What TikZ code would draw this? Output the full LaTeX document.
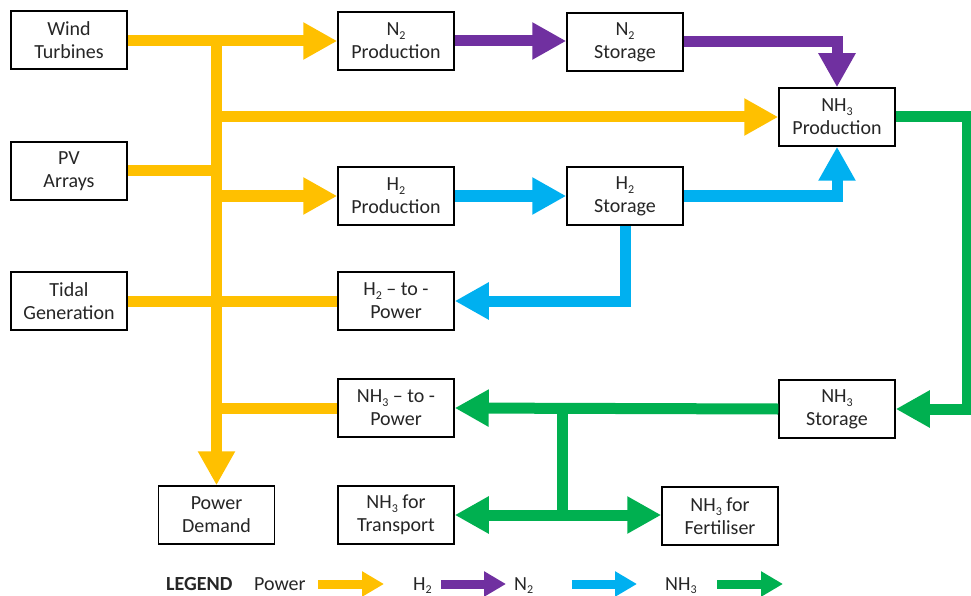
\documentclass[tikz,border=0pt]{standalone}
\usepackage{fontspec}
\setmainfont{Carlito}
\usetikzlibrary{arrows.meta}
\definecolor{pwc}{HTML}{FFC000}
\definecolor{puc}{HTML}{7030A0}
\definecolor{blc}{HTML}{00B0F0}
\definecolor{grc}{HTML}{00B050}
\definecolor{txc}{HTML}{262626}
\newcommand\sbs[1]{\raisebox{-0.4ex}{\fontsize{12}{12}\selectfont #1}}
\begin{document}
\begin{tikzpicture}[x=1pt,y=-1pt,
  box/.style={draw=black,line width=1.5pt,minimum width=116pt,minimum height=58pt,inner sep=0pt,
    align=center,font=\fontsize{20}{23}\selectfont,text=txc,fill=white},
  flow/.style={line width=11pt,line join=miter},
  tip/.style={-{Triangle[length=34pt,width=35pt]}},
  tips/.style={{Triangle[length=34pt,width=35pt]}-{Triangle[length=34pt,width=35pt]}},
  pwl/.style={flow,draw=pwc},
  pul/.style={flow,draw=puc},
  bll/.style={flow,draw=blc},
  grl/.style={flow,draw=grc},
  lgarrow/.style={line width=9pt,-{Triangle[length=22pt,width=24pt]}},
  lgtext/.style={anchor=base west,inner sep=0pt,font=\fontsize{20}{22}\selectfont,text=txc}]
\useasboundingbox (0,0) rectangle (971,596);

% nodes
\node[box] (wind) at (69,40) {Wind\\Turbines};
\node[box] (pv) at (69,171) {PV\\Arrays};
\node[box] (tidal) at (69,301) {Tidal\\Generation};
\node[box] (n2p) at (396,41) {N\sbs{2}\\Production};
\node[box] (n2s) at (625,42) {N\sbs{2}\\Storage};
\node[box] (nh3p) at (837,117) {NH\sbs{3}\\Production};
\node[box] (h2p) at (396,196) {H\sbs{2}\\Production};
\node[box] (h2s) at (625,196) {H\sbs{2}\\Storage};
\node[box] (h2tp) at (396,301) {H\sbs{2} – to -\\Power};
\node[box] (nh3tp) at (396,408) {NH\sbs{3} – to -\\Power};
\node[box] (nh3s) at (837,409) {NH\sbs{3}\\Storage};
\node[box] (pd) at (216.5,515) {Power\\Demand};
\node[box] (tr) at (396,515) {NH\sbs{3} for\\Transport};
\node[box] (fe) at (720,516) {NH\sbs{3} for\\Fertiliser};

% helper coordinates
\coordinate (tk) at (216.5,41);
\coordinate (gr) at (967.5,117);
\coordinate (gb) at (562,408);

% power (yellow)
\draw[pwl] (pv.east) -- (pv.east -| tk);
\draw[pwl] (tidal.east) -- (h2tp.west);
\draw[pwl] (tk |- nh3tp) -- (nh3tp.west);
\draw[pwl,tip] (tk) -- (pd.north);
\draw[pwl,tip] (wind.east |- n2p) -- (n2p.west);
\draw[pwl,tip] (tk |- nh3p) -- (nh3p.west);
\draw[pwl,tip] (tk |- h2p) -- (h2p.west);

% purple
\draw[pul,tip] (n2p.east) -- (n2s.west |- n2p);
\draw[pul,tip] (n2s.east) -| (nh3p.north);

% blue
\draw[bll,tip] (h2p.east) -- (h2s.west);
\draw[bll,tip] (h2s.east) -| (nh3p.south);
\draw[bll,tip] (h2s.south) |- (h2tp.east);

% green
\draw[grl,tip] (nh3p.east) -- (gr) |- (nh3s.east);
\draw[grl,tip] (nh3s.west) -- (nh3tp.east);
\draw[grl] (gb) -- (gb |- tr);
\draw[grl,tips] (tr.east) -- (fe.west |- tr);

% legend
\node[lgtext,font=\fontsize{20}{22}\selectfont\bfseries] (lgd) at (166,590) {LEGEND};
\node[lgtext] (lpw) at (254,590) {Power};
\node[lgtext] (lh2) at (413,590) {H\sbs{2}};
\node[lgtext] (ln2) at (514,590) {N\sbs{2}};
\node[lgtext] (lnh3) at (665,590) {NH\sbs{3}};
\coordinate (a1) at (318,584); \coordinate (b1) at (384,584);
\coordinate (a2) at (441,584); \coordinate (b2) at (506,584);
\coordinate (a3) at (572,584); \coordinate (b3) at (637,584);
\coordinate (a4) at (717,584); \coordinate (b4) at (783,584);
\draw[lgarrow,draw=pwc] (a1) -- (b1);
\draw[lgarrow,draw=puc] (a2) -- (b2);
\draw[lgarrow,draw=blc] (a3) -- (b3);
\draw[lgarrow,draw=grc] (a4) -- (b4);
\end{tikzpicture}
\end{document}
